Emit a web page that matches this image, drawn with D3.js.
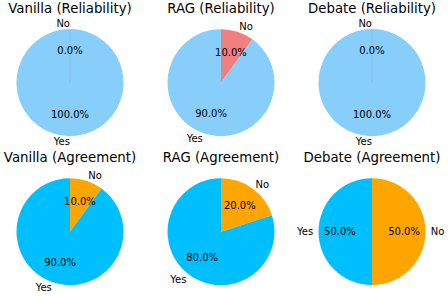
<!DOCTYPE html>
<html>
<head>
<meta charset="utf-8">
<script src="https://cdn.jsdelivr.net/npm/d3@7"></script>
<style>
  body { margin: 0; background: #fff; }
  svg { display: block; font-family: "DejaVu Sans", sans-serif; }
</style>
</head>
<body>
<div id="chart"></div>
<script>
// data
var methods = ["Vanilla", "RAG", "Debate"];
var metrics = ["Reliability", "Agreement"];
var categories = ["No", "Yes"];
var reliabilityNo  = [0, 10, 0];
var reliabilityYes = [100, 90, 100];
var agreementNo    = [10, 20, 50];
var agreementYes   = [90, 80, 50];

// colours per metric: [No, Yes]
var metricColors = {
  "Reliability": ["#f08080", "#87cefa"],
  "Agreement":   ["#ffa500", "#00bfff"]
};

var width = 448, height = 302, radius = 53.5;

var svg = d3.select("#chart")
  .append("svg")
    .attr("width", width)
    .attr("height", height);

// column and row centres
var x = d3.scaleBand().domain(methods).range([-5.5, 447.5]);
var y = d3.scaleBand().domain(metrics).range([8.1, 306.2]);

var pie = d3.pie().sort(null).value(function(d) { return d.value; });
var arc = d3.arc().innerRadius(0).outerRadius(radius);
var fmt = d3.format(".1f");

var panels = [];
metrics.forEach(function(m) {
  methods.forEach(function(meth, i) {
    var no  = m == "Reliability" ? reliabilityNo[i]  : agreementNo[i];
    var yes = m == "Reliability" ? reliabilityYes[i] : agreementYes[i];
    panels.push({ method: meth, metric: m, values: [no, yes] });
  });
});

panels.forEach(function(p) {
  var cx = x(p.method) + x.bandwidth() / 2;
  var cy = y(p.metric) + y.bandwidth() / 2;
  var g = svg.append("g").attr("transform", "translate(" + cx + "," + cy + ")");

  var slices = pie(categories.map(function(c, k) { return { label: c, value: p.values[k] }; }));

  g.selectAll("path")
    .data(slices)
    .enter()
    .append("path")
      .attr("d", arc)
      .attr("fill", function(d, k) { return metricColors[p.metric][k]; });

  // faint seam where an empty wedge sits
  slices.filter(function(d) { return d.value == 0; }).forEach(function(d) {
    g.append("line")
      .attr("x1", 0).attr("y1", 0)
      .attr("x2", Math.sin(d.startAngle) * radius)
      .attr("y2", -Math.cos(d.startAngle) * radius)
      .attr("stroke", "#7f9fb5")
      .attr("stroke-opacity", 0.35)
      .attr("stroke-width", 0.8);
  });

  // category labels at 1.1 r
  g.selectAll(".lbl")
    .data(slices)
    .enter()
    .append("text")
      .attr("class", "lbl")
      .attr("x", function(d) { return Math.sin((d.startAngle + d.endAngle) / 2) * radius * 1.1; })
      .attr("y", function(d) { return -Math.cos((d.startAngle + d.endAngle) / 2) * radius * 1.1; })
      .attr("text-anchor", function(d) { return Math.sin((d.startAngle + d.endAngle) / 2) > 0 ? "start" : "end"; })
      .attr("dominant-baseline", "central")
      .style("font-size", "10px")
      .text(function(d) { return d.data.label; });

  // percentages at 0.6 r
  g.selectAll(".pct")
    .data(slices)
    .enter()
    .append("text")
      .attr("class", "pct")
      .attr("x", function(d) { return Math.sin((d.startAngle + d.endAngle) / 2) * radius * 0.6; })
      .attr("y", function(d) { return -Math.cos((d.startAngle + d.endAngle) / 2) * radius * 0.6; })
      .attr("text-anchor", "middle")
      .attr("dominant-baseline", "central")
      .style("font-size", "10px")
      .text(function(d) { return fmt(d.value) + "%"; });

  // title
  g.append("text")
    .attr("x", 0)
    .attr("y", -69.4)
    .attr("text-anchor", "middle")
    .style("font-size", "13.3px")
    .text(p.method + " (" + p.metric + ")");
});
</script>
</body>
</html>
